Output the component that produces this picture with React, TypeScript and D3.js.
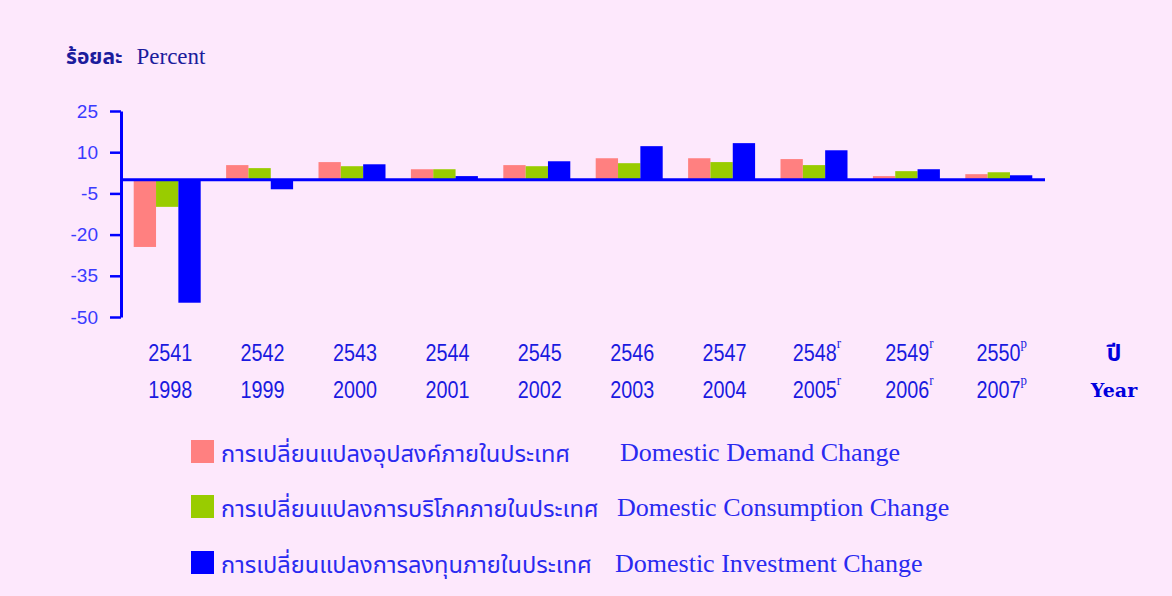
import React, { useEffect, useRef } from 'react';
import * as d3 from 'd3';

// Years (Thai BE / AD) and markers: r = revised, p = preliminary
const yearsTh = ['2541', '2542', '2543', '2544', '2545', '2546', '2547', '2548', '2549', '2550'];
const yearsEn = ['1998', '1999', '2000', '2001', '2002', '2003', '2004', '2005', '2006', '2007'];
const yearMarks = ['', '', '', '', '', '', '', 'r', 'r', 'p'];

// Percent change
const demandChange = [-24.5, 5.3, 6.4, 3.8, 5.3, 7.8, 7.8, 7.5, 1.3, 2.0];
const consumptionChange = [-9.9, 4.2, 4.9, 3.8, 4.9, 6.0, 6.4, 5.3, 3.1, 2.7];
const investmentChange = [-44.8, -3.5, 5.6, 1.3, 6.7, 12.2, 13.3, 10.7, 3.8, 1.6];

const yTicks = [25, 10, -5, -20, -35, -50];

const seriesNames = ['demand', 'consumption', 'investment'];
const seriesColors = ['#ff8080', '#99cc00', '#0000ff'];
const legendTh = [
  'การเปลี่ยนแปลงอุปสงค์ภายในประเทศ',
  'การเปลี่ยนแปลงการบริโภคภายในประเทศ',
  'การเปลี่ยนแปลงการลงทุนภายในประเทศ',
];
const legendEn = ['Domestic Demand Change', 'Domestic Consumption Change', 'Domestic Investment Change'];

export default function App() {
  const svgRef = useRef<SVGSVGElement>(null);

  useEffect(() => {
    if (!svgRef.current) return;
    const svg = d3.select(svgRef.current);
    svg.selectAll('*').remove();

    const width = 1172;
    const height = 596;

    svg.append('rect')
      .attr('width', width)
      .attr('height', height)
      .attr('fill', '#fde8fc');

    const x0 = d3.scaleBand<string>()
      .domain(yearsEn)
      .range([121, 1045])
      .paddingInner(0.275)
      .paddingOuter(0.1375);

    const x1 = d3.scaleBand<string>()
      .domain(seriesNames)
      .range([0, x0.bandwidth()]);

    const y = d3.scaleLinear()
      .domain([-50, 25])
      .range([317, 111]);

    const thaiFont = '"Noto Sans Thai", "Loma", "Garuda", "Norasi", "Noto Sans", sans-serif';

    // Title
    const title = svg.append('text')
      .attr('x', 66)
      .attr('y', 64)
      .style('fill', '#1c1c9c')
      .style('font-size', '21px');
    title.append('tspan').style('font-family', thaiFont).style('font-weight', 'bold').text('ร้อยละ');
    title.append('tspan')
      .attr('dx', 14)
      .style('font-family', '"Liberation Serif", serif')
      .style('font-size', '23px')
      .text('Percent');

    // Bars
    const series = [demandChange, consumptionChange, investmentChange];
    series.forEach((vals, si) => {
      svg.append('g')
        .selectAll('rect')
        .data(vals)
        .join('rect')
        .attr('x', (d, i) => (x0(yearsEn[i]) as number) + (x1(seriesNames[si]) as number))
        .attr('width', x1.bandwidth())
        .attr('y', d => y(Math.max(0, d)))
        .attr('height', d => Math.abs(y(d) - y(0)))
        .attr('fill', seriesColors[si]);
    });

    // Y axis
    const yAxis = svg.append('g')
      .attr('transform', 'translate(121,0)')
      .call(d3.axisLeft(y).tickValues(yTicks).tickFormat(d => String(d)).tickSize(11).tickSizeOuter(0).tickPadding(12));
    yAxis.select('.domain').attr('stroke', '#0000ff').attr('stroke-width', 3);
    yAxis.selectAll('.tick line').attr('stroke', '#0000ff').attr('stroke-width', 2.5);
    yAxis.selectAll('.tick text')
      .style('fill', '#3a3aff')
      .style('font-family', '"Liberation Sans", Arial, sans-serif')
      .style('font-size', '19px');

    // Zero line
    svg.append('line')
      .attr('x1', 121)
      .attr('x2', 1045)
      .attr('y1', y(0))
      .attr('y2', y(0))
      .attr('stroke', '#0000ff')
      .attr('stroke-width', 3);

    // Year labels (condensed horizontally)
    [yearsTh, yearsEn].forEach((labels, row) => {
      const t = svg.append('g')
        .selectAll('text')
        .data(labels)
        .join('text')
        .attr('transform', (d, i) =>
          `translate(${(x0(yearsEn[i]) as number) + x0.bandwidth() / 2 + 3},${row === 0 ? 361 : 398}) scale(0.86,1)`)
        .attr('text-anchor', 'middle')
        .style('fill', '#1a1ae0')
        .style('font-family', '"Liberation Sans", Arial, sans-serif')
        .style('font-size', '23px');
      t.append('tspan').text(d => d);
      t.append('tspan')
        .attr('dy', -13)
        .style('font-size', '15px')
        .style('font-family', '"Liberation Serif", serif')
        .text((d, i) => yearMarks[i]);
    });

    // Axis name
    svg.append('text')
      .attr('x', 1114)
      .attr('y', 361)
      .attr('text-anchor', 'middle')
      .style('fill', '#0000dd')
      .style('font-family', thaiFont)
      .style('font-weight', 'bold')
      .style('font-size', '23px')
      .text('ปี');
    svg.append('text')
      .attr('x', 1114)
      .attr('y', 397)
      .attr('text-anchor', 'middle')
      .style('fill', '#0000dd')
      .style('font-family', '"DejaVu Serif", serif')
      .style('font-weight', 'bold')
      .style('font-size', '19px')
      .text('Year');

    // Legend
    const legendY = [452, 507, 563];
    const legendEnX = [620, 617, 615];
    legendY.forEach((ly, i) => {
      svg.append('rect')
        .attr('x', 191)
        .attr('y', ly - 12)
        .attr('width', 23)
        .attr('height', 23)
        .attr('fill', seriesColors[i]);
      svg.append('text')
        .attr('x', 221)
        .attr('y', ly + 10)
        .style('fill', '#2a2af0')
        .style('font-family', thaiFont)
        .style('font-size', '23.6px')
        .text(legendTh[i]);
      svg.append('text')
        .attr('x', legendEnX[i])
        .attr('y', ly + 9)
        .style('fill', '#2a2af0')
        .style('font-family', '"Liberation Serif", serif')
        .style('font-size', '26px')
        .text(legendEn[i]);
    });
  }, []);

  return (
    <div style={{ position: 'absolute', left: 0, top: 0 }}>
      <svg ref={svgRef} width={1172} height={596} style={{ display: 'block' }} />
    </div>
  );
}
